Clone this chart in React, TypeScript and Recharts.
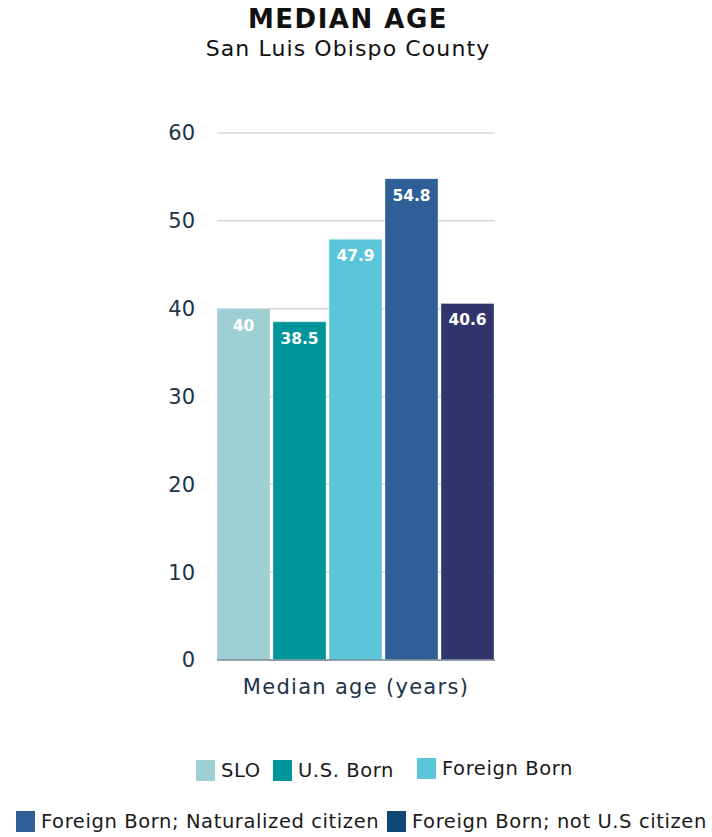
import { BarChart, Bar, XAxis, YAxis, CartesianGrid, LabelList } from "recharts";

const category = "Median age (years)";
const seriesNames = [
  "SLO",
  "U.S. Born",
  "Foreign Born",
  "Foreign Born; Naturalized citizen",
  "Foreign Born; not U.S citizen",
];
const seriesValues = [40, 38.5, 47.9, 54.8, 40.6];
const barColors = ["#9dcfd3", "#00959a", "#5bc5da", "#2e6097", "#32346c"];
const legendColors = ["#9dcfd3", "#00959a", "#5bc5da", "#2e6097", "#0f4676"];
const yTicks = [0, 10, 20, 30, 40, 50, 60];

const keys = seriesNames.map((_, i) => `s${i}`);
const data = [
  seriesValues.reduce<Record<string, number | string>>(
    (row, v, i) => {
      row[keys[i]] = v;
      return row;
    },
    { name: category }
  ),
];

const font = "'DejaVu Sans', sans-serif";
const textColor = "#1c3449";

// legend slot positions [left, top]
const legendPos = [
  [196, 759],
  [273, 759],
  [417, 757],
  [16, 810],
  [387, 810],
];

const LegendItem = ({ i }: { i: number }) => (
  <div style={{ position: "absolute", left: legendPos[i][0], top: legendPos[i][1], display: "flex", alignItems: "center", whiteSpace: "nowrap" }}>
    <div style={{ width: 19, height: 21, background: legendColors[i], marginRight: 6 }} />
    <span style={{ fontSize: 19.5, letterSpacing: 0.6, color: "#1a1a1a" }}>{seriesNames[i]}</span>
  </div>
);

export default function App() {
  return (
    <div style={{ position: "absolute", left: 0, top: 0, width: 712, height: 837, background: "#fff", fontFamily: font }}>
      <div style={{ position: "absolute", top: 4, left: 0, width: 696, textAlign: "center", fontSize: 26, fontWeight: 700, letterSpacing: 1.5, color: "#111" }}>
        MEDIAN AGE
      </div>
      <div style={{ position: "absolute", top: 36, left: 0, width: 696, textAlign: "center", fontSize: 22, letterSpacing: 1.1, color: "#111" }}>
        San Luis Obispo County
      </div>
      <div style={{ position: "absolute", top: 0, left: 0 }}>
        <BarChart
          width={712}
          height={700}
          data={data}
          margin={{ top: 133, right: 217, left: 157, bottom: 0 }}
          barCategoryGap={0}
          barGap={3}
        >
          <CartesianGrid vertical={false} stroke="#d3d8dc" strokeWidth={1.5} />
          <XAxis
            dataKey="name"
            height={40}
            tickLine={false}
            axisLine={{ stroke: "#7d8c97", strokeWidth: 1.5 }}
            tick={{ fill: textColor, fontSize: 21, fontFamily: font, letterSpacing: 1.3 }}
            tickMargin={13}
          />
          <YAxis
            width={60}
            domain={[0, 60]}
            ticks={yTicks}
            tickLine={false}
            axisLine={false}
            tick={{ fill: textColor, fontSize: 21, fontFamily: font }}
            tickMargin={16}
          />
          {keys.map((k, i) => (
            <Bar key={k} dataKey={k} fill={barColors[i]} stroke="#ffffff" strokeOpacity={0.35} isAnimationActive={false}>
              <LabelList
                dataKey={k}
                position="insideTop"
                offset={11}
                fill="#ffffff"
                fontSize={15.5}
                fontWeight={700}
                fontFamily={font}
              />
            </Bar>
          ))}
        </BarChart>
      </div>
      {seriesNames.map((_, i) => (
        <LegendItem key={i} i={i} />
      ))}
    </div>
  );
}
